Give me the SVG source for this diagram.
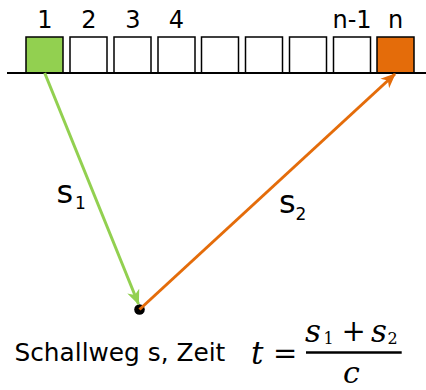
<svg xmlns="http://www.w3.org/2000/svg" width="426" height="390" viewBox="0 0 426 390">
<style>
.lbl{font-family:"DejaVu Sans",Verdana,sans-serif;font-size:24px;fill:#000;text-anchor:middle}
.box{fill:#fff;stroke:#000;stroke-width:1.5}
.sym{font-family:"DejaVu Sans",Verdana,sans-serif;fill:#000}
.math{font-family:"DejaVu Serif","Liberation Serif",serif;fill:#000}
</style>
<defs>
<marker id="ag" viewBox="0 0 14 12" refX="13" refY="6" markerWidth="15" markerHeight="13" markerUnits="userSpaceOnUse" orient="auto">
<path d="M0,0 L14,6 L0,12 L4,6 z" fill="#92D050"/>
</marker>
<marker id="ao" viewBox="0 0 14 12" refX="13" refY="6" markerWidth="15" markerHeight="13" markerUnits="userSpaceOnUse" orient="auto">
<path d="M0,0 L14,6 L0,12 L4,6 z" fill="#E46C0A"/>
</marker>
</defs>
<rect width="426" height="390" fill="#fff"/>
<g id="array">
<g id="e1"><rect class="box" x="26" y="37" width="37" height="36" style="fill:#92D050"/><text class="lbl" x="45" y="27.5">1</text></g>
<g id="e2"><rect class="box" x="70" y="37" width="37" height="36"/><text class="lbl" x="89" y="27.5">2</text></g>
<g id="e3"><rect class="box" x="114" y="37" width="37" height="36"/><text class="lbl" x="133" y="27.5">3</text></g>
<g id="e4"><rect class="box" x="158" y="37" width="37" height="36"/><text class="lbl" x="176.5" y="27.5">4</text></g>
<g id="e5"><rect class="box" x="201.5" y="37" width="37" height="36"/></g>
<g id="e6"><rect class="box" x="245.5" y="37" width="37" height="36"/></g>
<g id="e7"><rect class="box" x="289.5" y="37" width="37" height="36"/></g>
<g id="e8"><rect class="box" x="333.5" y="37" width="37" height="36"/><text class="lbl" x="352" y="27.5">n-1</text></g>
<g id="e9"><rect class="box" x="377" y="37" width="37" height="36" style="fill:#E46C0A"/><text class="lbl" x="395.5" y="27.5">n</text></g>
<line x1="7" y1="73" x2="426" y2="73" stroke="#000" stroke-width="2"/>
</g>
<g id="source"><circle cx="139.5" cy="309.5" r="5.3" fill="#000"/></g>
<g id="connectors">
<line x1="44.7" y1="73" x2="138.5" y2="304" stroke="#92D050" stroke-width="3" marker-end="url(#ag)"/>
<line x1="139.5" y1="309.5" x2="395" y2="74" stroke="#E46C0A" stroke-width="3" marker-end="url(#ao)"/>
<text class="sym" x="56.5" y="202.5" font-size="32">s</text>
<text class="sym" x="75" y="209" font-size="17">1</text>
<text class="sym" x="279" y="212.5" font-size="32">s</text>
<text class="sym" x="295.5" y="220" font-size="17">2</text>
</g>
<g id="caption">
<text class="sym" x="14.5" y="361" font-size="24.8">Schallweg s, Zeit</text>
<text class="math" x="251" y="364" font-size="31" font-style="italic">t</text>
<text class="math" x="273" y="363" font-size="29">=</text>
<text class="math" x="305" y="341.5" font-size="31" font-style="italic">s</text>
<text class="math" x="323.5" y="343.5" font-size="16">1</text>
<text class="math" x="341.5" y="341" font-size="29">+</text>
<text class="math" x="371" y="341.5" font-size="31" font-style="italic">s</text>
<text class="math" x="387.5" y="343.5" font-size="16">2</text>
<line x1="306" y1="352.5" x2="401.7" y2="352.5" stroke="#000" stroke-width="2.5"/>
<text class="math" x="343" y="383" font-size="30" font-style="italic">c</text>
</g>
</svg>
